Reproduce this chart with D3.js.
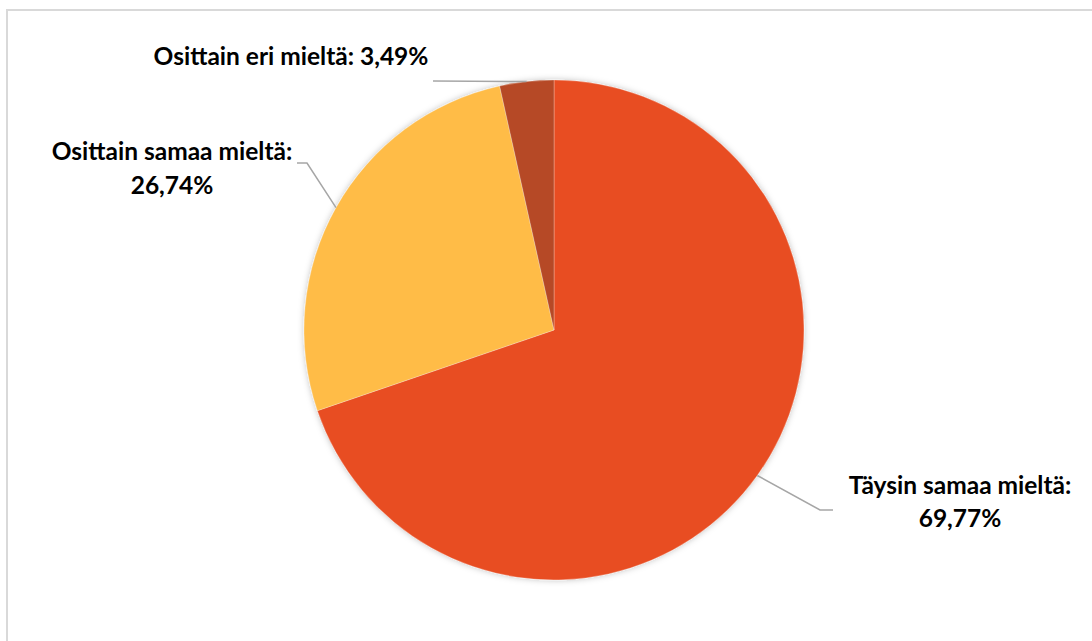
<!DOCTYPE html>
<html>
<head>
<meta charset="utf-8">
<script src="https://cdn.jsdelivr.net/npm/d3@7"></script>
<style>
  html, body { margin: 0; padding: 0; background: #fff; }
  svg { display: block; }
  text { font-family: Lato, "Open Sans", sans-serif; font-weight: bold; fill: #000; }
</style>
</head>
<body>
<svg id="chart" width="1092" height="641"></svg>
<script>
// Survey answer shares (percent)
const categories = ["Täysin samaa mieltä", "Osittain samaa mieltä", "Osittain eri mieltä"];
const values = [69.77, 26.74, 3.49];
const valueLabels = ["69,77%", "26,74%", "3,49%"];
const colors = ["#E84E23", "#FFBC47", "#B64A26"];

const svg = d3.select("#chart");

// soft shadow under the pie
const defs = svg.append("defs");
const shadow = defs.append("filter").attr("id", "pieShadow")
  .attr("x", "-10%").attr("y", "-10%").attr("width", "120%").attr("height", "120%");
shadow.append("feDropShadow")
  .attr("dx", 0).attr("dy", 0).attr("stdDeviation", 3)
  .attr("flood-color", "#000").attr("flood-opacity", 0.25);

// chart area frame
svg.append("rect")
  .attr("x", 7).attr("y", 10)
  .attr("width", 1200).attr("height", 700)
  .attr("fill", "#fff")
  .attr("stroke", "#d9d9d9")
  .attr("stroke-width", 2);

const cx = 554, cy = 330, radius = 250;

const pie = d3.pie().sort(null).value(d => d.value);
const arcs = pie(categories.map((c, i) => ({ name: c, value: values[i], label: valueLabels[i], color: colors[i] })));
const arc = d3.arc().innerRadius(0).outerRadius(radius);

const g = svg.append("g")
  .attr("transform", `translate(${cx},${cy})`)
  .attr("filter", "url(#pieShadow)");

g.selectAll("path.slice")
  .data(arcs)
  .join("path")
  .attr("class", "slice")
  .attr("d", arc)
  .attr("fill", d => d.data.color)
  .attr("stroke", "#fff")
  .attr("stroke-opacity", 0.35)
  .attr("stroke-width", 0.75);

// point on the rim at the middle angle of a slice
function rimPoint(d) {
  const a = (d.startAngle + d.endAngle) / 2;
  return [cx + radius * Math.sin(a), cy - radius * Math.cos(a)];
}

// leader-line elbows and label anchors, one per slice
const layout = [
  { elbow: [820, 510], end: [833, 510], lines: [[960, 494], [960, 527]], split: true },
  { elbow: [307, 163], end: [297, 163], lines: [[172, 160], [172, 194]], split: true },
  { elbow: null, end: [433, 81], lines: [[291, 65]], split: false }
];

arcs.forEach((d, i) => {
  const L = layout[i];
  const p0 = rimPoint(d);
  const pts = L.elbow ? [p0, L.elbow, L.end] : [p0, L.end];
  svg.append("path")
    .attr("d", d3.line()(pts))
    .attr("fill", "none")
    .attr("stroke", "#a6a6a6")
    .attr("stroke-width", 1.5);

  const texts = L.split
    ? [d.data.name + ":", d.data.label]
    : [d.data.name + ": " + d.data.label];
  texts.forEach((t, j) => {
    svg.append("text")
      .attr("x", L.lines[j][0])
      .attr("y", L.lines[j][1])
      .attr("text-anchor", "middle")
      .attr("font-size", 24.5)
      .text(t);
  });
});
</script>
</body>
</html>
